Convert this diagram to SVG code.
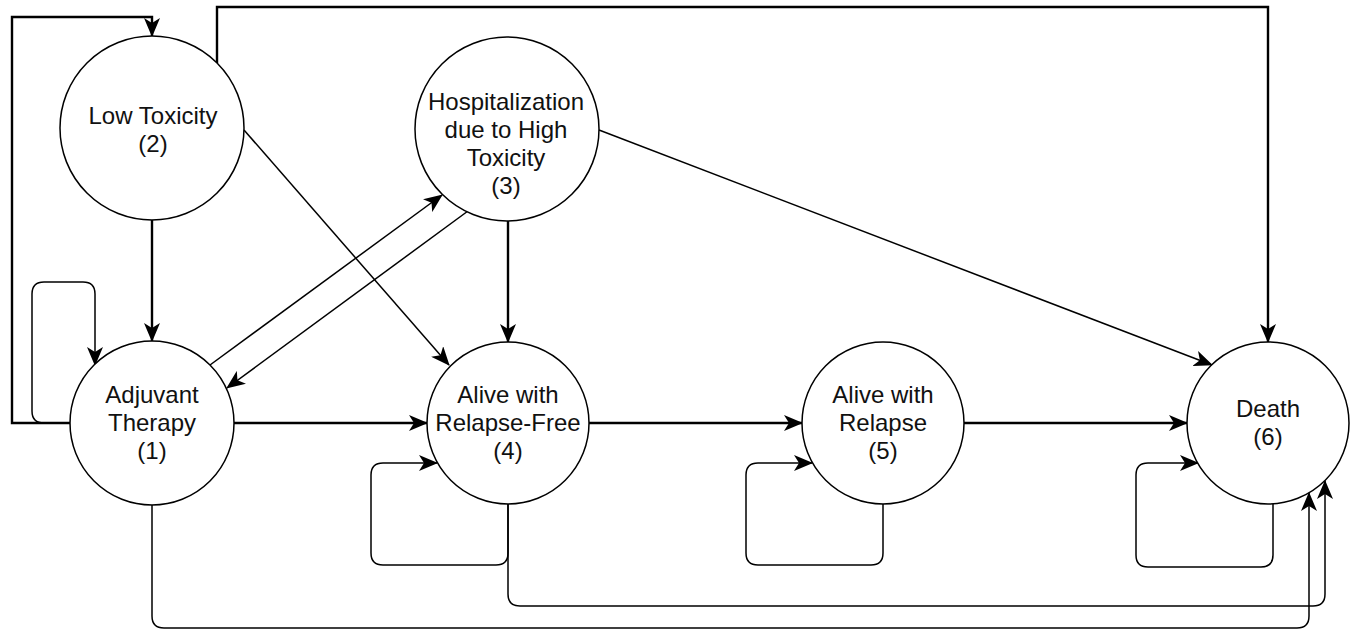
<svg xmlns="http://www.w3.org/2000/svg" width="1354" height="630" viewBox="0 0 1354 630">
<style>
.node{fill:#fff;stroke:#000;stroke-width:1.5}
.lbl{font-family:"Liberation Sans",Arial,sans-serif;font-size:24px;fill:#111;text-anchor:middle}
.thick{fill:none;stroke:#000;stroke-width:2.4;marker-end:url(#arr)}
.thin{fill:none;stroke:#000;stroke-width:1.5;marker-end:url(#arr)}
</style>
<defs>
<marker id="arr" markerUnits="userSpaceOnUse" markerWidth="19" markerHeight="16" viewBox="0 0 19 16" refX="18" refY="8" orient="auto">
<path d="M0,0 L19,8 L0,16 L5,8 z" fill="#000"/>
</marker>
</defs>
<rect width="1354" height="630" fill="#fff"/>
<g id="connectors">
<path class="thick" d="M71,423 L12,423 L12,17 L152,17 L152,36"/>
<path class="thin" d="M71,423 L44,423 Q32,423 32,411 L32,294 Q32,282 44,282 L83,282 Q95,282 95,294 L95,365"/>
<path class="thick" d="M217,63 L217,7 L1268,7 L1268,342"/>
<path class="thick" d="M152,220 L152,341"/>
<path class="thick" d="M508,221 L508,342"/>
<path class="thick" d="M234,423 L427,423"/>
<path class="thick" d="M589,423 L802,423"/>
<path class="thick" d="M964,423 L1187,423"/>
<path class="thin" d="M210,365 L442,195"/>
<path class="thin" d="M468,211 L227,388"/>
<path class="thin" d="M244,130 L449,365"/>
<path class="thin" d="M599,130 L1212,365"/>
<path class="thin" d="M508,504 L508,553 Q508,565 496,565 L383,565 Q371,565 371,553 L371,475 Q371,463 383,463 L437,463"/>
<path class="thin" d="M883,504 L883,553 Q883,565 871,565 L758,565 Q746,565 746,553 L746,475 Q746,463 758,463 L812,463"/>
<path class="thin" d="M1273,504 L1273,555 Q1273,567 1261,567 L1148,567 Q1136,567 1136,555 L1136,475 Q1136,463 1148,463 L1198,463"/>
<path class="thin" d="M508,504 L508,594 Q508,606 520,606 L1313,606 Q1325,606 1325,594 L1325,481"/>
<path class="thin" d="M152,505 L152,616 Q152,628 164,628 L1297,628 Q1309,628 1309,616 L1309,493"/>
</g>
<g id="node1">
<circle class="node" cx="152" cy="423" r="82"/>
<text class="lbl" x="152" y="403">Adjuvant</text>
<text class="lbl" x="152" y="431">Therapy</text>
<text class="lbl" x="152" y="459">(1)</text>
</g>
<g id="node2">
<circle class="node" cx="152" cy="128" r="92"/>
<text class="lbl" x="153" y="124">Low Toxicity</text>
<text class="lbl" x="153" y="152">(2)</text>
</g>
<g id="node3">
<circle class="node" cx="507" cy="129" r="92"/>
<text class="lbl" x="506" y="110">Hospitalization</text>
<text class="lbl" x="506" y="138">due to High</text>
<text class="lbl" x="506" y="166">Toxicity</text>
<text class="lbl" x="506" y="194">(3)</text>
</g>
<g id="node4">
<circle class="node" cx="508" cy="423" r="81"/>
<text class="lbl" x="508" y="403">Alive with</text>
<text class="lbl" x="508" y="431">Relapse-Free</text>
<text class="lbl" x="508" y="459">(4)</text>
</g>
<g id="node5">
<circle class="node" cx="883" cy="423" r="81"/>
<text class="lbl" x="883" y="403">Alive with</text>
<text class="lbl" x="883" y="431">Relapse</text>
<text class="lbl" x="883" y="459">(5)</text>
</g>
<g id="node6">
<circle class="node" cx="1268" cy="423" r="81"/>
<text class="lbl" x="1268" y="417">Death</text>
<text class="lbl" x="1268" y="445">(6)</text>
</g>
</svg>
